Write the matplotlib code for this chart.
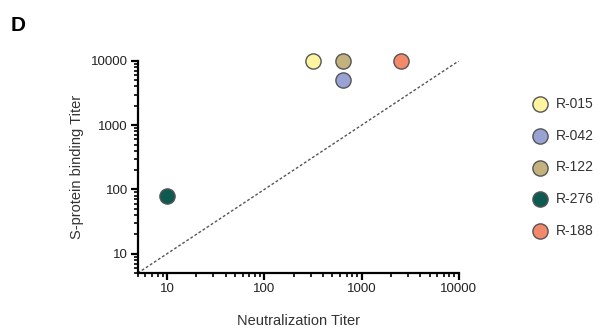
import numpy as np
import matplotlib.pyplot as plt
from matplotlib.ticker import LogLocator, FixedLocator, FixedFormatter, NullFormatter

plt.rcParams['font.family'] = ['Liberation Sans', 'DejaVu Sans']

names = ['R-015', 'R-042', 'R-122', 'R-276', 'R-188']
neut = [320, 640, 640, 10, 2560]
binding = [10000, 5000, 10000, 80, 10000]
colors = ['#fff4a0', '#98a3d4', '#c3b27d', '#0e5a50', '#f2896a']

fig = plt.figure(figsize=(5.99, 3.31), dpi=100)
ax = fig.add_axes([0.230, 0.175, 0.536, 0.641])

ax.plot([5, 10000], [5, 10000], ls=(0, (2, 1.5)), color='#555555', lw=1, zorder=1)
for n, x, y, c in zip(names, neut, binding, colors):
    ax.scatter(x, y, s=120, color=c, edgecolor='#555555', linewidth=1, label=n,
               zorder=3, clip_on=False)

ax.set_xscale('log')
ax.set_yscale('log')
ax.set_xlim(5, 10000)
ax.set_ylim(5, 10000)

majors = [10, 100, 1000, 10000]
for a in (ax.xaxis, ax.yaxis):
    a.set_major_locator(FixedLocator(majors))
    a.set_major_formatter(FixedFormatter([str(m) for m in majors]))
    a.set_minor_locator(LogLocator(base=10, subs=np.arange(2, 10)))
    a.set_minor_formatter(NullFormatter())

for s in ['top', 'right']:
    ax.spines[s].set_visible(False)
for s in ['left', 'bottom']:
    ax.spines[s].set_linewidth(1.6)
ax.tick_params(which='major', length=5, width=1.6, labelsize=9.5, pad=2,
               labelcolor='#222222')
ax.tick_params(which='minor', length=3, width=1.2)

ax.set_xlabel('Neutralization Titer', fontsize=10.5, labelpad=14, color='#333333')
ax.set_ylabel('S-protein binding Titer', fontsize=10.5, labelpad=5, color='#333333')

fig.legend(loc='upper left', bbox_to_anchor=(0.867, 0.728), frameon=False,
           fontsize=10, labelspacing=1.27, handletextpad=0.15, borderpad=0,
           markerscale=1, labelcolor='#333333')

fig.text(0.018, 0.905, 'D', fontsize=15, fontweight='bold')

fig.savefig('out.png', dpi=100)
